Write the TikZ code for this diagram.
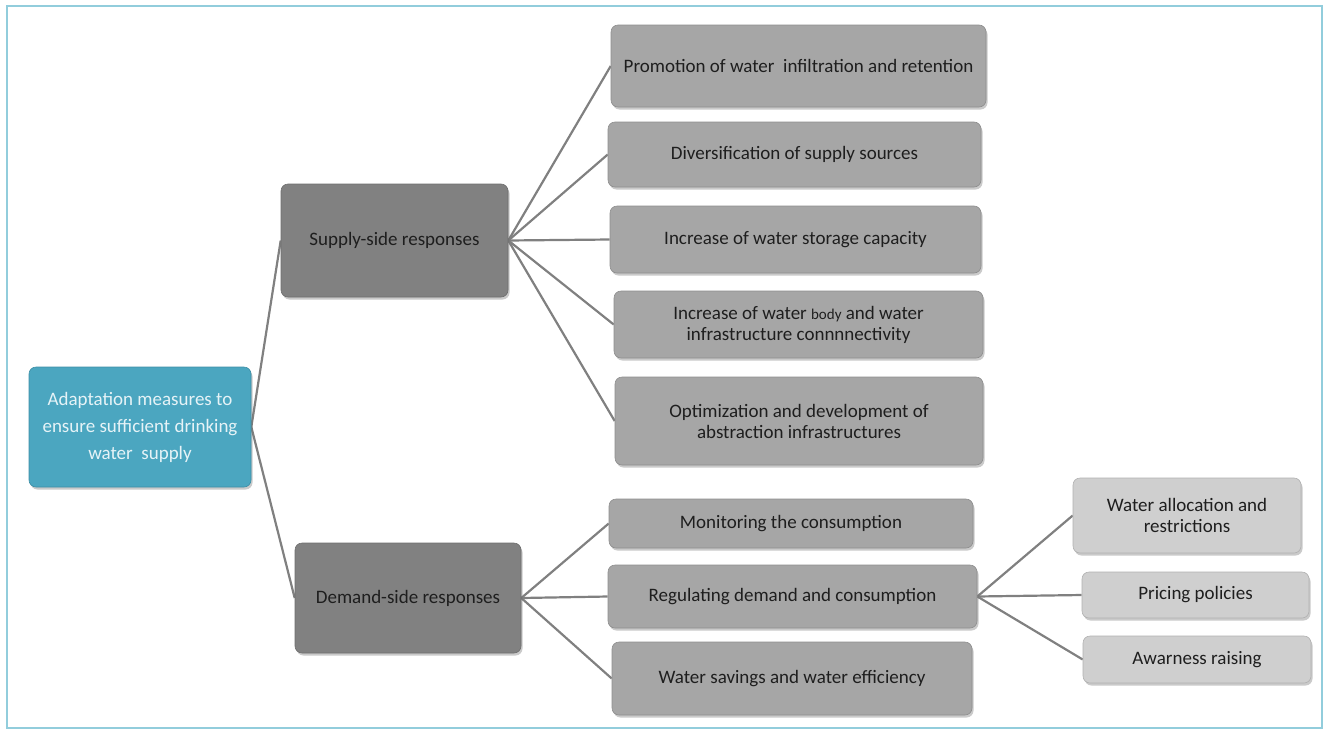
\documentclass[tikz,border=0pt]{standalone}
\usepackage{fontspec}
\setmainfont{Carlito}
\usetikzlibrary{shadows,backgrounds}
\definecolor{frameblue}{HTML}{92CDDC}
\definecolor{rootfill}{HTML}{4BA6C0}
\definecolor{rootedge}{HTML}{3E8FA6}
\definecolor{darkfill}{HTML}{818181}
\definecolor{midfill}{HTML}{A6A6A6}
\definecolor{lightfill}{HTML}{CFCFCF}
\definecolor{linegrey}{HTML}{808080}
\definecolor{textdark}{HTML}{1E1E1E}
\definecolor{roottext}{HTML}{E6F3F7}
\tikzset{
  basebox/.style={rounded corners=7pt, inner sep=0pt, align=center,
    font=\fontsize{19}{21}\selectfont, text=textdark,
    drop shadow={shadow xshift=1.5pt, shadow yshift=-2.5pt, opacity=0.35, fill=black!60}},
  rootbox/.style={basebox, fill=rootfill, draw=rootedge, line width=0.6pt, text=roottext,
    font=\fontsize{19}{27}\selectfont},
  lvlone/.style={basebox, fill=darkfill, draw=darkfill!85!black, line width=0.6pt},
  lvltwo/.style={basebox, fill=midfill, draw=midfill!85!black, line width=0.6pt},
  lvlthree/.style={basebox, fill=lightfill, draw=lightfill!85!black, line width=0.6pt},
  link/.style={draw=linegrey, line width=2.2pt}
}
\begin{document}
\begin{tikzpicture}[x=1pt,y=-1pt]
\useasboundingbox (0,0) rectangle (1329,731);
\draw[frameblue, line width=2pt] (7,5.5) rectangle (1321.5,728);

% nodes
\node[rootbox, minimum width=222pt, minimum height=120pt] (root) at (140,427)
  {Adaptation measures to\\ensure sufficient drinking\\water\ \ supply};
\node[lvlone, minimum width=227pt, minimum height=113pt] (supply) at (394.5,240.5)
  {Supply-side responses};
\node[lvlone, minimum width=226pt, minimum height=110pt] (demand) at (408,598)
  {Demand-side responses};

\node[lvltwo, minimum width=375pt, minimum height=82pt] (promo) at (798.5,66)
  {Promotion of water\ \ infiltration and retention};
\node[lvltwo, minimum width=373pt, minimum height=65pt] (divers) at (794.5,154.5)
  {Diversification of supply sources};
\node[lvltwo, minimum width=371pt, minimum height=67pt] (storage) at (795.5,239.5)
  {Increase of water storage capacity};
\node[lvltwo, minimum width=369pt, minimum height=67pt] (connect) at (798.5,324.5)
  {Increase of water {\fontsize{15}{21}\selectfont body} and water\\infrastructure connnnectivity};
\node[lvltwo, minimum width=368pt, minimum height=88pt] (optim) at (799,421)
  {Optimization and development of\\abstraction infrastructures};

\node[lvltwo, minimum width=364pt, minimum height=49pt] (monitor) at (791,523.5)
  {Monitoring the consumption};
\node[lvltwo, minimum width=369pt, minimum height=63pt] (regul) at (792.5,596.5)
  {Regulating demand and consumption};
\node[lvltwo, minimum width=360pt, minimum height=73pt] (savings) at (792,678.5)
  {Water savings and water efficiency};

\node[lvlthree, minimum width=228pt, minimum height=75pt] (alloc) at (1187,515.5)
  {Water allocation and\\restrictions};
\node[lvlthree, minimum width=227pt, minimum height=46pt] (pricing) at (1195.5,595)
  {Pricing policies};
\node[lvlthree, minimum width=228pt, minimum height=47pt] (aware) at (1197,659.5)
  {Awarness raising};

% connectors
\begin{scope}[on background layer]
\path[link] (root.east) -- (supply.west);
\path[link] (root.east) -- (demand.west);
\foreach \t in {promo,divers,storage,connect,optim}
  \path[link] (supply.east) -- (\t.west);
\foreach \t in {monitor,regul,savings}
  \path[link] (demand.east) -- (\t.west);
\foreach \t in {alloc,pricing,aware}
  \path[link] (regul.east) -- (\t.west);
\end{scope}
\end{tikzpicture}
\end{document}
